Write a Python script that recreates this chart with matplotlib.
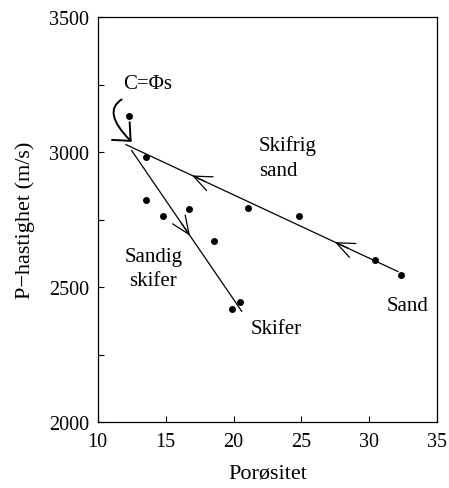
import matplotlib
matplotlib.use("Agg")
import matplotlib.pyplot as plt
import numpy as np

# measured points (porosity %, P-velocity m/s)
por = [12.3, 13.55, 13.55, 14.8, 16.7, 18.55, 21.05, 24.8, 30.4, 32.35, 20.45, 19.85]
vp = [3135, 2982, 2822, 2762, 2790, 2670, 2795, 2762, 2602, 2545, 2447, 2418]

# trend lines
sand_line_x = [12.08, 32.1]
sand_line_y = [3028, 2558]
shale_line_x = [12.5, 20.6]
shale_line_y = [3006, 2411]

xticks = [10, 15, 20, 25, 30, 35]
yticks = [2000, 2250, 2500, 2750, 3000, 3250, 3500]
ylabels = ['2000', '', '2500', '', '3000', '', '3500']

plt.rcParams['font.family'] = ['Liberation Serif', 'DejaVu Serif']
plt.rcParams['font.size'] = 15

fig = plt.figure(figsize=(4.49, 4.89), dpi=100)
ax = fig.add_axes([0.2176, 0.1344, 0.974 - 0.2176, 0.963 - 0.1344])

ax.plot(sand_line_x, sand_line_y, color='black', lw=0.9)
ax.plot(shale_line_x, shale_line_y, color='black', lw=0.9)
ax.plot(por, vp, 'o', color='black', ms=4)


def along(xs, ys, t):
    return xs[0] + t * (xs[1] - xs[0]), ys[0] + t * (ys[1] - ys[0])


def line_arrow(xs, ys, t, back):
    tip = along(xs, ys, t)
    tail = along(xs, ys, t + back)
    ax.annotate('', xy=tip, xytext=tail,
                arrowprops=dict(arrowstyle='->,head_length=1.3,head_width=0.55',
                                color='black', lw=0.9, mutation_scale=10,
                                shrinkA=0, shrinkB=0))


line_arrow(sand_line_x, sand_line_y, 0.243, 0.05)
line_arrow(sand_line_x, sand_line_y, 0.768, 0.05)
line_arrow(shale_line_x, shale_line_y, 0.53, -0.08)

# curved arrow for the cementation trend
ax.annotate('', xy=(12.5, 3038), xytext=(11.76, 3195),
            arrowprops=dict(arrowstyle='->,head_length=1.0,head_width=0.9',
                            color='black', lw=1.4, mutation_scale=10,
                            connectionstyle='angle3,angleA=32,angleB=135',
                            shrinkA=0, shrinkB=0))

ax.text(11.86, 3253, 'C=Φs', ha='left', va='center')
ax.text(21.87, 2979, 'Skifrig\nsand', ha='left', va='center', linespacing=1.4)
ax.text(14.1, 2570, 'Sandig\nskifer', ha='center', va='center',
        multialignment='center', linespacing=1.4)
ax.text(21.29, 2346, 'Skifer', ha='left', va='center')
ax.text(31.3, 2431, 'Sand', ha='left', va='center')

ax.set_xlim(10, 35)
ax.set_ylim(2000, 3500)
ax.set_xticks(xticks)
ax.set_yticks(yticks)
ax.set_yticklabels(ylabels)
ax.tick_params(direction='in', length=4, width=0.8, labelsize=14.5)
ax.tick_params(axis='x', pad=7)
ax.tick_params(axis='y', pad=6)
for s in ax.spines.values():
    s.set_linewidth(0.9)

ax.set_xlabel('Porøsitet', fontsize=16, labelpad=9)
ax.set_ylabel('P−hastighet (m/s)', fontsize=16, labelpad=10)

fig.savefig('out.png', dpi=100)
